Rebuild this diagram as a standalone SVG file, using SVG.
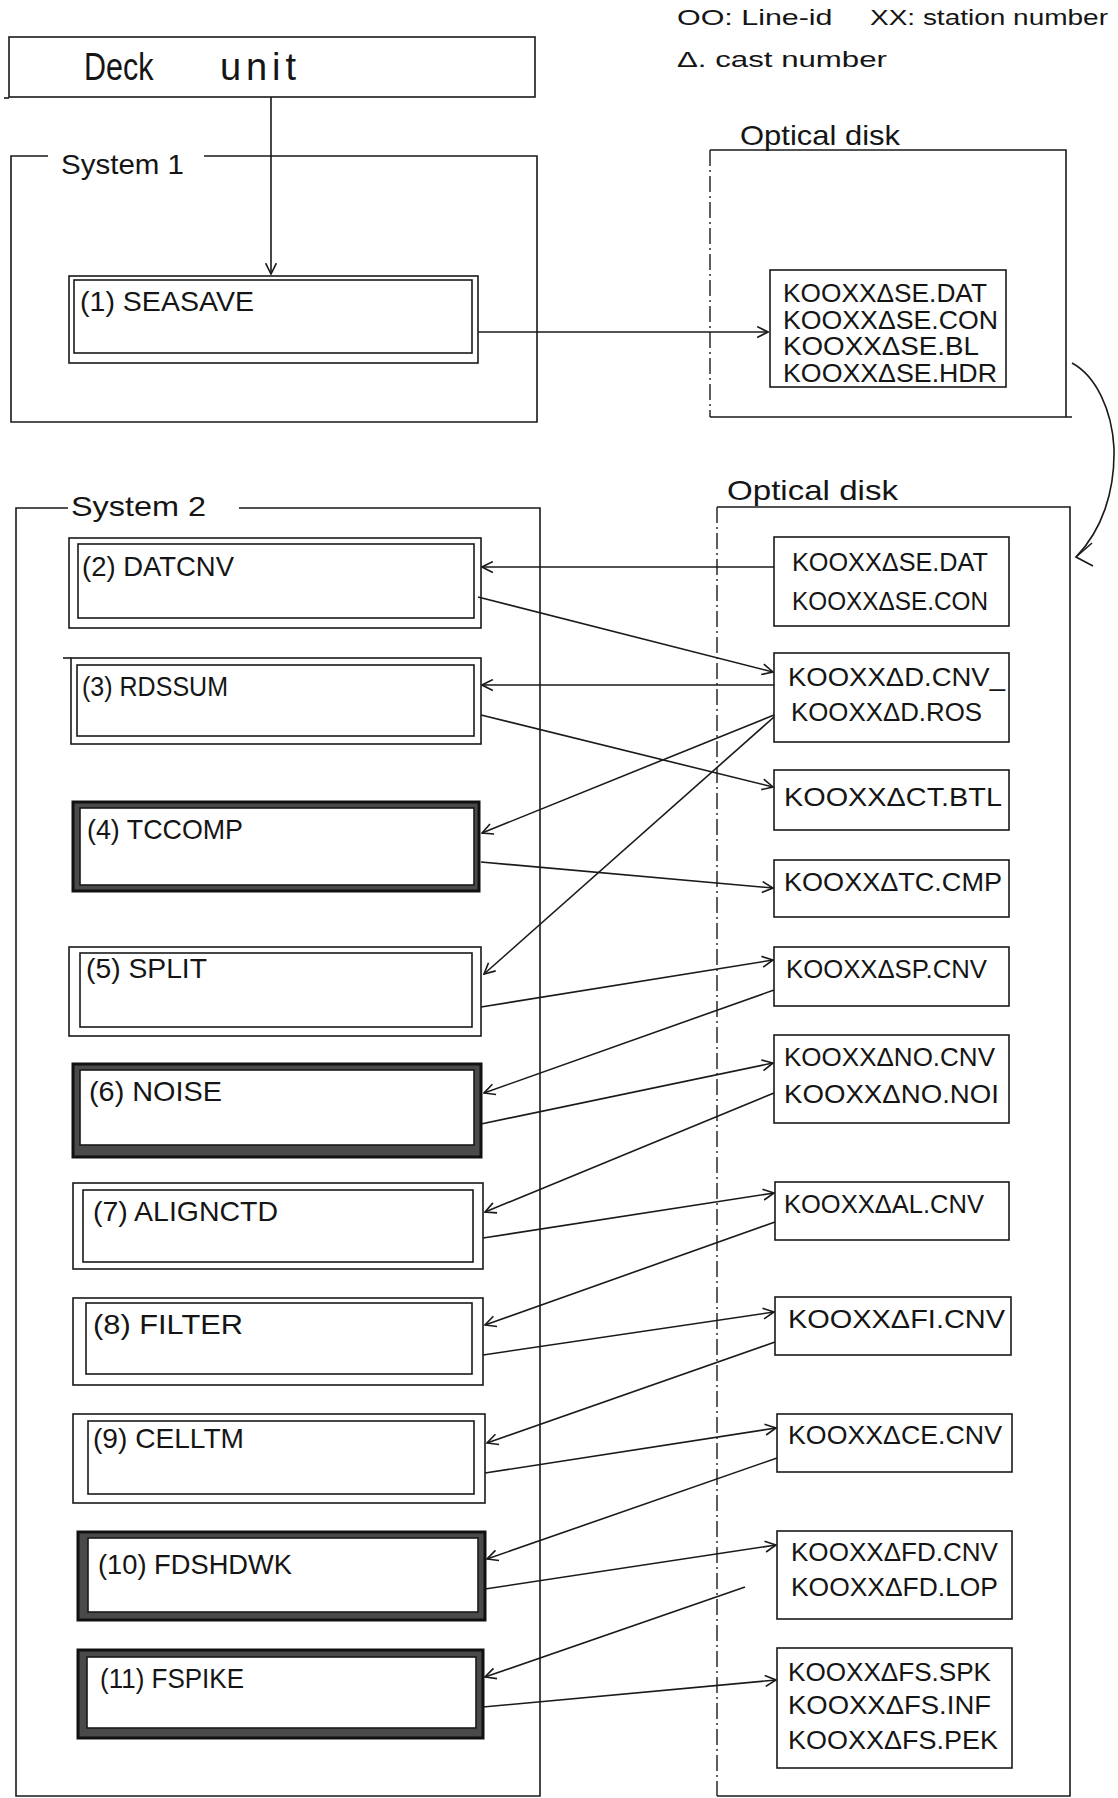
<svg xmlns="http://www.w3.org/2000/svg" width="1118" height="1798" viewBox="0 0 1118 1798">
<style>
  .ln{fill:none;stroke:#1a1a1a;stroke-width:1.6}
  .bx{fill:none;stroke:#1a1a1a;stroke-width:1.6}
  .thick{fill:none;stroke:#111;stroke-width:3}
  .band{fill:#4a4a4a;fill-rule:evenodd}
  .dd{fill:none;stroke:#1a1a1a;stroke-width:1.4;stroke-dasharray:16 4 2 4}
  .t{font-family:"Liberation Sans","DejaVu Sans",sans-serif;fill:#151515}
  .big{font-size:38px}
  .lab{font-size:28px}
  .mod{font-size:28px}
  .file{font-size:25px}
  .leg{font-size:22px}
</style>
<defs>
  <marker id="arr" viewBox="0 0 12 12" refX="11" refY="6" markerWidth="13" markerHeight="13" markerUnits="userSpaceOnUse" orient="auto">
    <path d="M1,1 L11,6 L1,11" fill="none" stroke="#1a1a1a" stroke-width="1.5"/>
  </marker>
</defs>
<rect width="1118" height="1798" fill="#ffffff"/>

<!-- legend -->
<g id="legend">
  <text class="t leg" y="25"><tspan x="677" textLength="164" lengthAdjust="spacingAndGlyphs">OO: Line-id </tspan><tspan x="870" textLength="238" lengthAdjust="spacingAndGlyphs">XX: station number</tspan></text>
  <text class="t leg" x="677" y="67" textLength="210" lengthAdjust="spacingAndGlyphs">Δ. cast number</text>
</g>

<!-- Deck unit -->
<g id="deck-unit">
  <rect class="bx" x="9" y="37" width="526" height="60"/>
  <line class="ln" x1="4" y1="98" x2="9" y2="98"/>
  <text class="t big" y="80"><tspan x="84" textLength="78" lengthAdjust="spacingAndGlyphs">Deck </tspan><tspan x="220" textLength="76" lengthAdjust="spacing">unit</tspan></text>
</g>

<!-- System 1 frame -->
<g id="system1">
  <path class="ln" d="M48,156 H11 V422 H537 V156 H204"/>
  <text class="t lab" x="61" y="174" textLength="123" lengthAdjust="spacingAndGlyphs">System 1</text>
</g>

<!-- SEASAVE -->
<g id="n1-seasave">
  <rect class="bx" x="69" y="276" width="409" height="87"/>
  <rect class="bx" x="74" y="280" width="398" height="73"/>
  <text class="t mod" x="80" y="311" textLength="174" lengthAdjust="spacingAndGlyphs">(1) SEASAVE</text>
</g>

<!-- Optical disk 1 -->
<g id="optical-disk1">
  <path class="ln" d="M710,150 H1066 V417 H1072 M1066,417 H710"/>
  <line class="dd" x1="710" y1="150" x2="710" y2="417"/>
  <text class="t lab" x="740" y="145" textLength="160" lengthAdjust="spacingAndGlyphs">Optical disk</text>
</g>
<g id="f0">
  <rect class="bx" x="770" y="270" width="236" height="117"/>
  <text class="t file" x="783" y="302" textLength="204" lengthAdjust="spacingAndGlyphs">KOOXXΔSE.DAT</text>
  <text class="t file" x="783" y="329" textLength="215" lengthAdjust="spacingAndGlyphs">KOOXXΔSE.CON</text>
  <text class="t file" x="783" y="355" textLength="196" lengthAdjust="spacingAndGlyphs">KOOXXΔSE.BL</text>
  <text class="t file" x="783" y="382" textLength="214" lengthAdjust="spacingAndGlyphs">KOOXXΔSE.HDR</text>
</g>

<!-- System 2 frame -->
<g id="system2">
  <path class="ln" d="M68,508 H16 V1796 H540 V508 H239"/>
  <text class="t lab" x="71" y="516" textLength="135" lengthAdjust="spacingAndGlyphs">System 2</text>
</g>

<!-- Optical disk 2 -->
<g id="optical-disk2">
  <path class="ln" d="M717,507 H1070 V1796 H717"/>
  <line class="dd" x1="717" y1="507" x2="717" y2="1796"/>
  <text class="t lab" x="727" y="500" textLength="171" lengthAdjust="spacingAndGlyphs">Optical disk</text>
</g>

<!-- modules -->
<g id="n2-datcnv">
  <rect class="bx" x="69" y="538" width="412" height="90"/>
  <rect class="bx" x="78" y="544" width="396" height="74"/>
  <text class="t mod" x="82" y="576" textLength="152" lengthAdjust="spacingAndGlyphs">(2) DATCNV</text>
</g>
<g id="n3-rossum">
  <rect class="bx" x="71" y="658" width="410" height="86"/>
  <line class="ln" x1="63" y1="658" x2="71" y2="658"/>
  <rect class="bx" x="77" y="665" width="397" height="71"/>
  <text class="t mod" x="82" y="696" textLength="146" lengthAdjust="spacingAndGlyphs">(3) RDSSUM</text>
</g>
<g id="n4-tccomp">
  <path class="band" d="M73,802 H479 V891 H73 Z M80,808 V885 H474 V808 Z"/>
  <rect class="thick" x="73" y="802" width="406" height="89"/>
  <rect class="bx" x="80" y="808" width="394" height="77"/>
  <text class="t mod" x="87" y="839" textLength="156" lengthAdjust="spacingAndGlyphs">(4) TCCOMP</text>
</g>
<g id="n5-split">
  <rect class="bx" x="69" y="947" width="412" height="89"/>
  <rect class="bx" x="80" y="953" width="392" height="74"/>
  <text class="t mod" x="86" y="978" textLength="121" lengthAdjust="spacingAndGlyphs">(5) SPLIT</text>
</g>
<g id="n6-noise">
  <path class="band" d="M73,1064 H481 V1157 H73 Z M80,1070 V1145 H474 V1070 Z"/>
  <rect class="thick" x="73" y="1064" width="408" height="93"/>
  <rect class="bx" x="80" y="1070" width="394" height="75"/>
  <text class="t mod" x="89" y="1101" textLength="133" lengthAdjust="spacingAndGlyphs">(6) NOISE</text>
</g>
<g id="n7-alignctd">
  <rect class="bx" x="73" y="1183" width="410" height="86"/>
  <rect class="bx" x="83" y="1190" width="390" height="72"/>
  <text class="t mod" x="93" y="1221" textLength="185" lengthAdjust="spacingAndGlyphs">(7) ALIGNCTD</text>
</g>
<g id="n8-filter">
  <rect class="bx" x="73" y="1298" width="410" height="87"/>
  <rect class="bx" x="86" y="1303" width="386" height="71"/>
  <text class="t mod" x="93" y="1334" textLength="150" lengthAdjust="spacingAndGlyphs">(8) FILTER</text>
</g>
<g id="n9-celltm">
  <rect class="bx" x="73" y="1414" width="412" height="89"/>
  <rect class="bx" x="88" y="1421" width="386" height="73"/>
  <text class="t mod" x="93" y="1448" textLength="151" lengthAdjust="spacingAndGlyphs">(9) CELLTM</text>
</g>
<g id="n10-fdshdwk">
  <path class="band" d="M78,1532 H485 V1620 H78 Z M88,1538 V1612 H478 V1538 Z"/>
  <rect class="thick" x="78" y="1532" width="407" height="88"/>
  <rect class="bx" x="88" y="1538" width="390" height="74"/>
  <text class="t mod" x="98" y="1574" textLength="194" lengthAdjust="spacingAndGlyphs">(10) FDSHDWK</text>
</g>
<g id="n11-fspike">
  <path class="band" d="M78,1650 H483 V1738 H78 Z M87,1657 V1728 H476 V1657 Z"/>
  <rect class="thick" x="78" y="1650" width="405" height="88"/>
  <rect class="bx" x="87" y="1657" width="389" height="71"/>
  <text class="t mod" x="100" y="1688" textLength="144" lengthAdjust="spacingAndGlyphs">(11) FSPIKE</text>
</g>

<!-- files on optical disk 2 -->
<g id="f1">
  <rect class="bx" x="774" y="537" width="235" height="89"/>
  <text class="t file" x="792" y="571" textLength="196" lengthAdjust="spacingAndGlyphs">KOOXXΔSE.DAT</text>
  <text class="t file" x="792" y="610" textLength="196" lengthAdjust="spacingAndGlyphs">KOOXXΔSE.CON</text>
</g>
<g id="f2">
  <rect class="bx" x="774" y="653" width="235" height="89"/>
  <text class="t file" x="788" y="686" textLength="217" lengthAdjust="spacingAndGlyphs">KOOXXΔD.CNV_</text>
  <text class="t file" x="791" y="721" textLength="191" lengthAdjust="spacingAndGlyphs">KOOXXΔD.ROS</text>
</g>
<g id="f3">
  <rect class="bx" x="774" y="770" width="235" height="60"/>
  <text class="t file" x="784" y="806" textLength="218" lengthAdjust="spacingAndGlyphs">KOOXXΔCT.BTL</text>
</g>
<g id="f4">
  <rect class="bx" x="774" y="860" width="235" height="57"/>
  <text class="t file" x="784" y="891" textLength="218" lengthAdjust="spacingAndGlyphs">KOOXXΔTC.CMP</text>
</g>
<g id="f5">
  <rect class="bx" x="774" y="947" width="235" height="59"/>
  <text class="t file" x="786" y="978" textLength="201" lengthAdjust="spacingAndGlyphs">KOOXXΔSP.CNV</text>
</g>
<g id="f6">
  <rect class="bx" x="774" y="1035" width="235" height="88"/>
  <text class="t file" x="784" y="1066" textLength="211" lengthAdjust="spacingAndGlyphs">KOOXXΔNO.CNV</text>
  <text class="t file" x="784" y="1103" textLength="215" lengthAdjust="spacingAndGlyphs">KOOXXΔNO.NOI</text>
</g>
<g id="f7">
  <rect class="bx" x="775" y="1182" width="234" height="58"/>
  <text class="t file" x="784" y="1213" textLength="200" lengthAdjust="spacingAndGlyphs">KOOXXΔAL.CNV</text>
</g>
<g id="f8">
  <rect class="bx" x="775" y="1297" width="236" height="58"/>
  <text class="t file" x="788" y="1328" textLength="217" lengthAdjust="spacingAndGlyphs">KOOXXΔFI.CNV</text>
</g>
<g id="f9">
  <rect class="bx" x="777" y="1414" width="235" height="58"/>
  <text class="t file" x="788" y="1444" textLength="214" lengthAdjust="spacingAndGlyphs">KOOXXΔCE.CNV</text>
</g>
<g id="f10">
  <rect class="bx" x="777" y="1531" width="235" height="88"/>
  <text class="t file" x="791" y="1561" textLength="207" lengthAdjust="spacingAndGlyphs">KOOXXΔFD.CNV</text>
  <text class="t file" x="791" y="1596" textLength="207" lengthAdjust="spacingAndGlyphs">KOOXXΔFD.LOP</text>
</g>
<g id="f11">
  <rect class="bx" x="777" y="1648" width="235" height="120"/>
  <text class="t file" x="788" y="1681" textLength="203" lengthAdjust="spacingAndGlyphs">KOOXXΔFS.SPK</text>
  <text class="t file" x="788" y="1714" textLength="203" lengthAdjust="spacingAndGlyphs">KOOXXΔFS.INF</text>
  <text class="t file" x="788" y="1749" textLength="210" lengthAdjust="spacingAndGlyphs">KOOXXΔFS.PEK</text>
</g>

<!-- connectors -->
<g id="connectors">
  <line class="ln" x1="271" y1="97" x2="271" y2="274" marker-end="url(#arr)"/>
  <line class="ln" x1="478" y1="332" x2="768" y2="332" marker-end="url(#arr)"/>
  <path class="ln" d="M1072,363 C1096,376 1112,410 1114,448 C1115,492 1102,530 1076,557"/>
  <path class="ln" d="M1092,543 L1076,557 L1093,566"/>
  <line class="ln" x1="774" y1="567" x2="482" y2="567" marker-end="url(#arr)"/>
  <line class="ln" x1="478" y1="597" x2="773" y2="672" marker-end="url(#arr)"/>
  <line class="ln" x1="774" y1="685" x2="482" y2="685" marker-end="url(#arr)"/>
  <line class="ln" x1="481" y1="715" x2="773" y2="787" marker-end="url(#arr)"/>
  <line class="ln" x1="774" y1="715" x2="482" y2="833" marker-end="url(#arr)"/>
  <line class="ln" x1="774" y1="717" x2="484" y2="974" marker-end="url(#arr)"/>
  <line class="ln" x1="481" y1="862" x2="773" y2="888" marker-end="url(#arr)"/>
  <line class="ln" x1="481" y1="1007" x2="773" y2="960" marker-end="url(#arr)"/>
  <line class="ln" x1="774" y1="990" x2="484" y2="1093" marker-end="url(#arr)"/>
  <line class="ln" x1="481" y1="1124" x2="773" y2="1063" marker-end="url(#arr)"/>
  <line class="ln" x1="774" y1="1093" x2="485" y2="1212" marker-end="url(#arr)"/>
  <line class="ln" x1="483" y1="1238" x2="774" y2="1193" marker-end="url(#arr)"/>
  <line class="ln" x1="775" y1="1222" x2="485" y2="1325" marker-end="url(#arr)"/>
  <line class="ln" x1="483" y1="1355" x2="774" y2="1312" marker-end="url(#arr)"/>
  <line class="ln" x1="775" y1="1342" x2="487" y2="1443" marker-end="url(#arr)"/>
  <line class="ln" x1="485" y1="1473" x2="776" y2="1428" marker-end="url(#arr)"/>
  <line class="ln" x1="777" y1="1458" x2="487" y2="1559" marker-end="url(#arr)"/>
  <line class="ln" x1="485" y1="1589" x2="776" y2="1545" marker-end="url(#arr)"/>
  <line class="ln" x1="745" y1="1587" x2="485" y2="1677" marker-end="url(#arr)"/>
  <line class="ln" x1="483" y1="1707" x2="776" y2="1680" marker-end="url(#arr)"/>
</g>
</svg>
